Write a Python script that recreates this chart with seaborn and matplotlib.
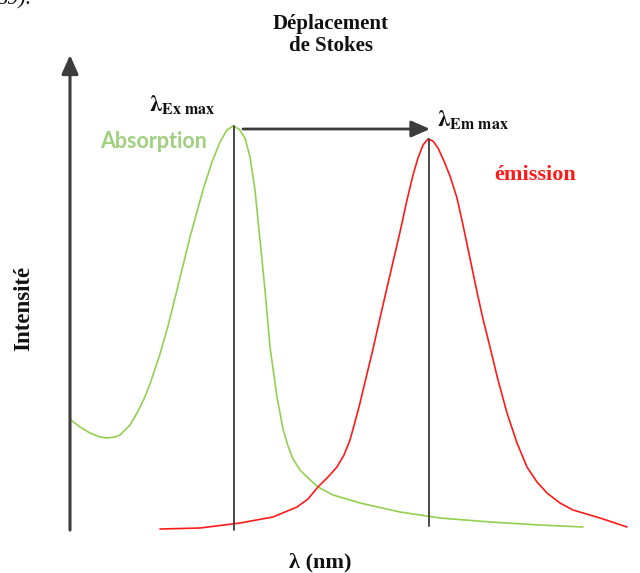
import numpy as np
import pandas as pd
import seaborn as sns
import matplotlib
matplotlib.use("Agg")
from matplotlib import pyplot as plt

# curves (lambda and intensity in arbitrary units)
abs_lam = [71, 80, 90, 100, 107, 115, 120, 130, 137, 144, 150, 160, 168, 177, 190,
           203, 212, 220, 227, 233, 239, 245, 250, 255, 260, 265, 270, 277, 283, 288,
           293, 300, 307, 318, 333, 360, 400, 440, 490, 540, 583]
abs_int = [110, 103, 97, 93, 92, 93, 95, 105, 117, 131, 146, 176, 204, 240, 293,
           340, 368, 388, 400, 404, 401, 392, 373, 340, 290, 240, 183, 133, 101, 84,
           71, 60, 53, 43, 35, 27, 18, 12, 8, 5, 3]
em_lam = [160, 200, 240, 273, 297, 308, 318, 328, 337, 344, 350, 355, 360, 366, 373,
          380, 386, 393, 400, 407, 413, 418, 423, 428, 433, 438, 444, 450, 457, 463,
          472, 477, 483, 490, 498, 507, 517, 527, 537, 547, 560, 573, 600, 627]
em_int = [1, 2, 7, 13, 23, 31, 43, 53, 63, 75, 90, 108, 127, 152, 181,
          212, 238, 268, 298, 330, 355, 372, 385, 391, 389, 382, 369, 354, 332, 305,
          262, 238, 211, 183, 150, 117, 87, 63, 48, 37, 27, 20, 12, 3]

absorption = pd.DataFrame({"lam": abs_lam, "I": abs_int})
emission = pd.DataFrame({"lam": em_lam, "I": em_int})

sns.set_theme(style="white")
plt.rcParams["font.family"] = ["Liberation Serif", "DejaVu Serif"]
plt.rcParams["mathtext.fontset"] = "stix"

fig = plt.figure(figsize=(6.4, 5.73), dpi=100)
ax = fig.add_axes([0, 0, 1, 1])
ax.set_xlim(0, 640)
ax.set_ylim(-43, 530)
ax.axis("off")

axis_col = "#3c3c3c"
head = "-|>,head_length=0.95,head_width=0.42"
# axes with arrows
ax.annotate("", xy=(70, 475), xytext=(70, 0),
            arrowprops=dict(arrowstyle=head, color=axis_col, lw=2.2, shrinkA=0, shrinkB=0))
ax.annotate("", xy=(646, 0), xytext=(68, 0),
            arrowprops=dict(arrowstyle=head, color=axis_col, lw=2.2, shrinkA=0, shrinkB=0))

sns.lineplot(data=absorption, x="lam", y="I", ax=ax, color="#92d050", lw=1.2, sort=False,
             solid_joinstyle="round")
sns.lineplot(data=emission, x="lam", y="I", ax=ax, color="#ff1a1a", lw=1.2, sort=False,
             solid_joinstyle="round")

# peak markers
ia = int(np.argmax(abs_int))
ie = int(np.argmax(em_int))
xa, ya = abs_lam[ia], abs_int[ia]
xe, ye = em_lam[ie], em_int[ie]
ax.plot([xa + 1, xa + 1], [ya, 0], color="#3a3a3a", lw=1.3)
ax.plot([xe + 1, xe + 1], [ye, 4], color="#3a3a3a", lw=1.3)
ax.annotate("", xy=(xe + 2, ya - 3), xytext=(xa + 10, ya - 3),
            arrowprops=dict(arrowstyle=head, color=axis_col, lw=2.0, shrinkA=0, shrinkB=0))

# labels
ax.text(149, 425, r"$\mathbf{\lambda_{Ex\ max}}$", fontsize=16.5, color="#111111", va="center", ha="left")
ax.text(437, 410, r"$\mathbf{\lambda_{Em\ max}}$", fontsize=16.5, color="#111111", va="center", ha="left")
ax.text(100, 388, "Absorption", fontsize=15.5, color="#a0d080", fontweight="bold",
        family=["Lato", "DejaVu Sans"], va="center", ha="left")
ax.text(494, 355, "émission", fontsize=16, color="#ff1a1a", fontweight="bold", va="center", ha="left")
ax.text(331, 495, "Déplacement\nde Stokes", fontsize=15, fontweight="bold", color="#111111",
        ha="center", va="center", linespacing=1.1)
ax.text(24, 222, "Intensité", fontsize=16.5, fontweight="bold", color="#111111",
        rotation=90, ha="center", va="center")
ax.text(320, -32, "λ (nm)", fontsize=16, fontweight="bold", color="#111111", ha="center", va="center")
fig.text(-0.005, 0.992, "89).", fontsize=16, style="italic", color="#111111", ha="left", va="baseline")

fig.savefig("out.png", dpi=100)
